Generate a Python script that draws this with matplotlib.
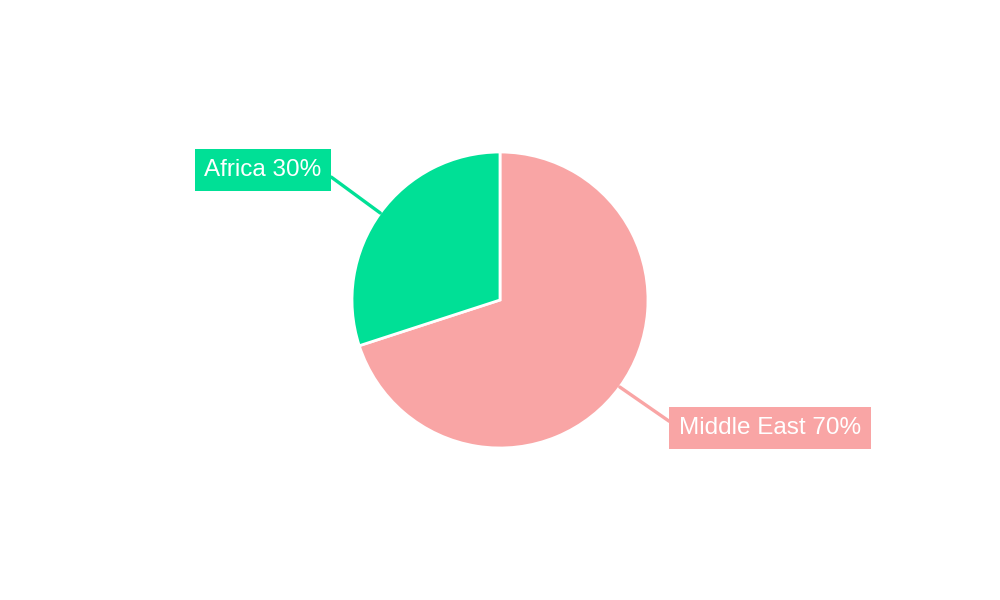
import numpy as np
import matplotlib.pyplot as plt

plt.rcParams['font.family'] = ['Liberation Sans', 'DejaVu Sans']

regions = ['Middle East', 'Africa']
shares = [70, 30]
colors = ['#F9A5A5', '#00E096']

# label box centres in pixel coordinates (y up)
label_pos = [(770, 172), (263, 430)]

fig = plt.figure(figsize=(10, 6), dpi=100)
ax = fig.add_axes([0, 0, 1, 1])

cx, cy, r = 500, 300, 148
wedges, _ = ax.pie(shares, colors=colors, startangle=90, counterclock=False,
                   center=(cx, cy), radius=r, frame=True,
                   wedgeprops=dict(edgecolor='white', linewidth=2))
ax.set_xlim(0, 1000)
ax.set_ylim(0, 600)
ax.set_aspect('equal')
ax.axis('off')

for w, name, val, col, pos in zip(wedges, regions, shares, colors, label_pos):
    mid = np.deg2rad((w.theta1 + w.theta2) / 2)
    px, py = cx + r * np.cos(mid), cy + r * np.sin(mid)
    rel = (0, 0.5) if pos[0] > cx else (1, 0.5)
    ax.annotate(f'{name} {val}%', xy=(px, py), xytext=pos,
                ha='center', va='center', fontsize=17.5, color='white',
                bbox=dict(boxstyle='square,pad=0.4', fc=col, ec='none'),
                arrowprops=dict(arrowstyle='-', color=col, lw=2.4,
                                shrinkA=0, shrinkB=0, relpos=rel))

fig.savefig('out.png', dpi=100)
